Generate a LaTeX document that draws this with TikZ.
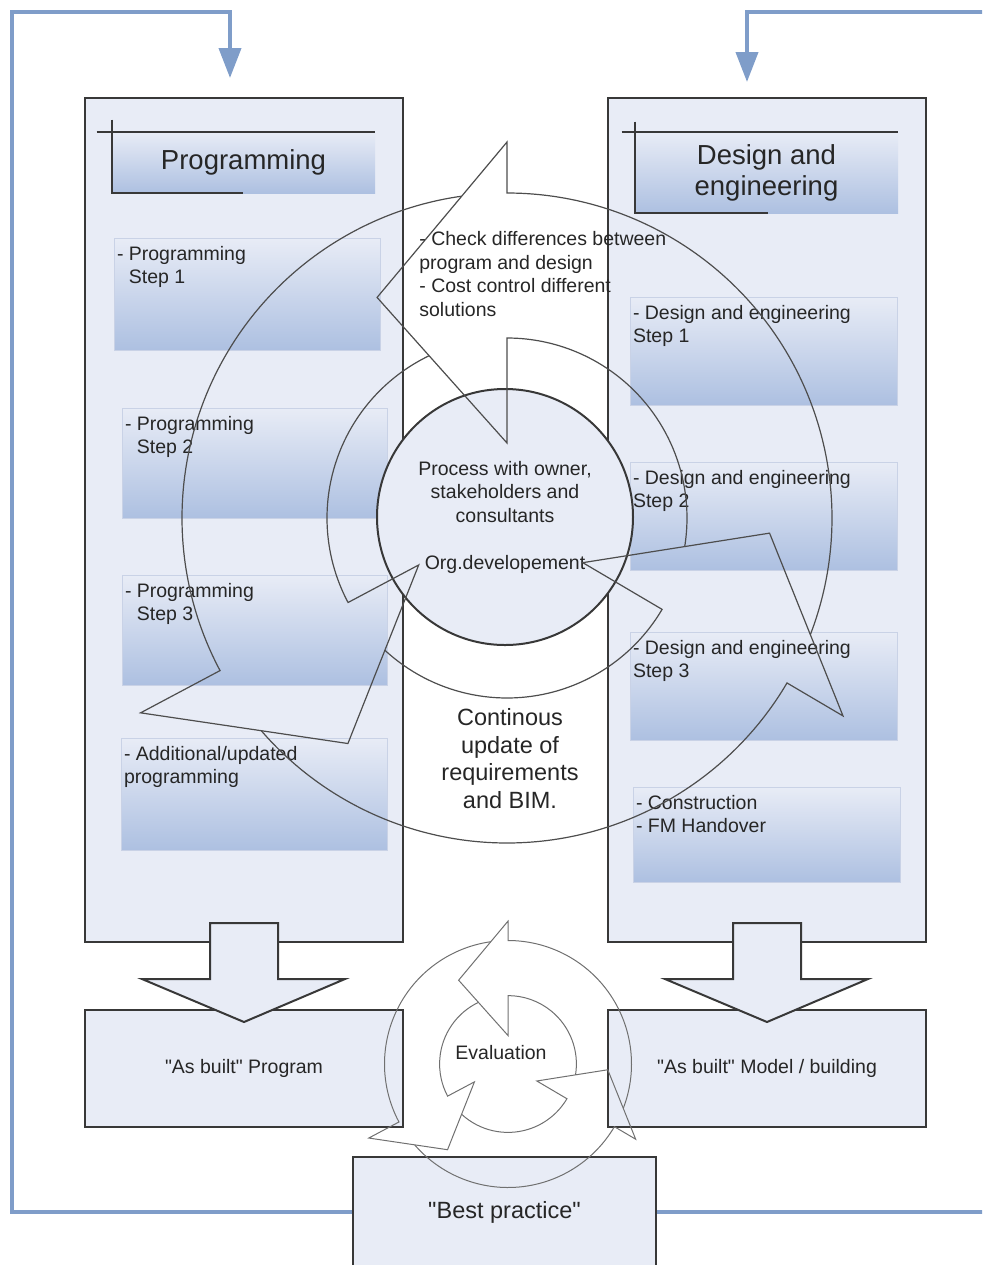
\documentclass[tikz,border=0pt]{standalone}
\usepackage{fontspec}
\setmainfont{Liberation Sans}
\usetikzlibrary{arrows.meta,calc}

\definecolor{panelfill}{HTML}{E8ECF6}
\definecolor{steptop}{HTML}{E8ECF6}
\definecolor{stepbottom}{HTML}{ADC0E1}
\definecolor{stepedge}{HTML}{C9D2E6}
\definecolor{darkedge}{HTML}{383838}
\definecolor{feedblue}{HTML}{7F9DC9}
\definecolor{ringgray}{HTML}{4D4D4D}
\definecolor{evalgray}{HTML}{707070}
\definecolor{inktext}{HTML}{262626}

\tikzset{
  panel/.style={draw=darkedge,line width=1pt,fill=panelfill,inner sep=0pt,text=inktext},
  titlebox/.style={top color=steptop,bottom color=stepbottom,inner sep=0pt,align=center,
    text=inktext,font=\fontsize{13.75}{15.5}\selectfont},
  titleline/.style={draw=darkedge,line width=1pt},
  stepbox/.style={draw=stepedge,line width=0.4pt,top color=steptop,bottom color=stepbottom,inner sep=0pt},
  steptext/.style={anchor=north west,align=left,inner xsep=1.5pt,inner ysep=4pt,text=inktext,
    font=\fontsize{9.75}{11.75}\selectfont},
  smalltext/.style={text=inktext,font=\fontsize{9.75}{11.75}\selectfont},
  blockarrow/.style={draw=darkedge,line width=1pt,fill=panelfill},
  feedback/.style={draw=feedblue,line width=2pt,-{Triangle[length=15pt,width=11pt]}},
  ringline/.style={draw=ringgray,line width=0.6pt},
  evalline/.style={draw=evalgray,line width=0.5pt},
}

% three curved arrows round a ring (radii 180 and 325), heads pointing anticlockwise
\newcommand{\cyclearrows}[1]{%
  \foreach \base/\rin/\tip/\rtip/\rout/\ein/\eout in {90/75/120.5/256/376/-9.1/-21,
      -30.5/88/-3.3/263/390/-132.7/-139.1, 208/100/234.8/276/415/115.6/98}
    \draw[#1] (\ein:180) arc (\ein:\base:180) -- (\base:\rin) -- (\tip:\rtip)
      -- (\base:\rout) -- (\base:325) arc (\base:\eout:325);}

\begin{document}
\begin{tikzpicture}[x=0.5pt,y=-0.5pt]
\useasboundingbox (0,0) rectangle (982,1265);
\clip (0,0) rectangle (982,1265);

% the two columns
\node[panel,minimum width=159pt,minimum height=422pt] (prog) at (244,520) {};
\node[panel,minimum width=159pt,minimum height=422pt] (des) at (767,520) {};

\node[titlebox,minimum width=131.5pt,minimum height=30.5pt] (progtitle) at (243.5,162.5) {Programming};
\node[titlebox,minimum width=131.5pt,minimum height=40.5pt] (destitle) at (766.5,172.5) {Design and\\engineering};
\draw[titleline] ($(progtitle.north west)+(-15,0)$) -- (progtitle.north east);
\draw[titleline] ($(progtitle.north west)+(0,-12)$) -- (progtitle.south west) -- ++(131,0);
\draw[titleline] ($(destitle.north west)+(-13,0)$) -- (destitle.north east);
\draw[titleline] ($(destitle.north west)+(0,-10)$) -- (destitle.south west) -- ++(133,0);

% steps
\node[stepbox,minimum width=133pt,minimum height=56pt] (p1) at (247,294) {};
\node[steptext] (p1t) at (p1.north west) {- Programming\\\phantom{- }Step 1};
\node[stepbox,minimum width=132.5pt,minimum height=55pt] (p2) at (254.5,463) {};
\node[steptext] (p2t) at (p2.north west) {- Programming\\\phantom{- }Step 2};
\node[stepbox,minimum width=132.5pt,minimum height=55pt] (p3) at (254.5,630) {};
\node[steptext] (p3t) at (p3.north west) {- Programming\\\phantom{- }Step 3};
\node[stepbox,minimum width=133pt,minimum height=56pt] (p4) at (254,794) {};
\node[steptext] (p4t) at (p4.north west) {- Additional/updated\\programming};

\node[stepbox,minimum width=133.5pt,minimum height=54pt] (d1) at (763.5,351) {};
\node[steptext] (d1t) at (d1.north west) {- Design and engineering\\Step 1};
\node[stepbox,minimum width=133.5pt,minimum height=54pt] (d2) at (763.5,516) {};
\node[steptext] (d2t) at (d2.north west) {- Design and engineering\\Step 2};
\node[stepbox,minimum width=133.5pt,minimum height=54pt] (d3) at (763.5,686) {};
\node[steptext] (d3t) at (d3.north west) {- Design and engineering\\Step 3};
\node[stepbox,minimum width=133.5pt,minimum height=47.5pt] (d4) at (766.5,834.5) {};
\node[steptext] (d4t) at (d4.north west) {- Construction\\- FM Handover};

% results
\node[panel,smalltext,minimum width=159pt,minimum height=58.5pt] (abprog) at (244,1068.5)
  {\textquotedbl As built\textquotedbl{} Program};
\node[panel,smalltext,minimum width=159pt,minimum height=58.5pt] (abdes) at (767,1068.5)
  {\textquotedbl As built\textquotedbl{} Model / building};
\node[panel,text=inktext,font=\fontsize{11.75}{14}\selectfont,minimum width=151.5pt,minimum height=55pt]
  (bp) at (504.5,1212) {\textquotedbl Best practice\textquotedbl};

\foreach \col/\res in {prog/abprog,des/abdes}
  \draw[blockarrow] ($(\col.south)+(-34,-20)$) -- ++(68,0) -- ++(0,56) -- ++(67,0)
    -- ($(\res.north)+(0,13)$) -- ($(\col.south)+(-102,36)$) -- ++(68,0) -- cycle;

% feedback
\coordinate (inL) at (230,78);
\coordinate (inR) at (747,82);
\draw[feedback] (bp.west) -| (12,12) -| (inL);
\draw[feedback] (bp.east) -| (992,12) -| (inR);

% centre
\node[panel,circle,minimum size=128pt,align=center,smalltext] (hub) at (505,517)
  {Process with owner,\\stakeholders and\\consultants\\[11.75pt]Org.developement};
\begin{scope}[shift={(507,518)},yscale=-1]
  \cyclearrows{ringline}
\end{scope}
\node[smalltext,anchor=north west,align=left,inner sep=0pt] (checktxt) at (419,231)
  {- Check differences between\\program and design\\- Cost control different\\solutions};
\node[text=inktext,font=\fontsize{11.75}{13.9}\selectfont,align=center] (updtxt) at (510,758.5)
  {Continous\\update of\\requirements\\and BIM.};

% evaluation
\begin{scope}[shift={(508,1064)},yscale=-1,scale=0.38]
  \cyclearrows{evalline}
\end{scope}
\node[smalltext] (evaltxt) at (501,1053) {Evaluation};
\end{tikzpicture}
\end{document}
